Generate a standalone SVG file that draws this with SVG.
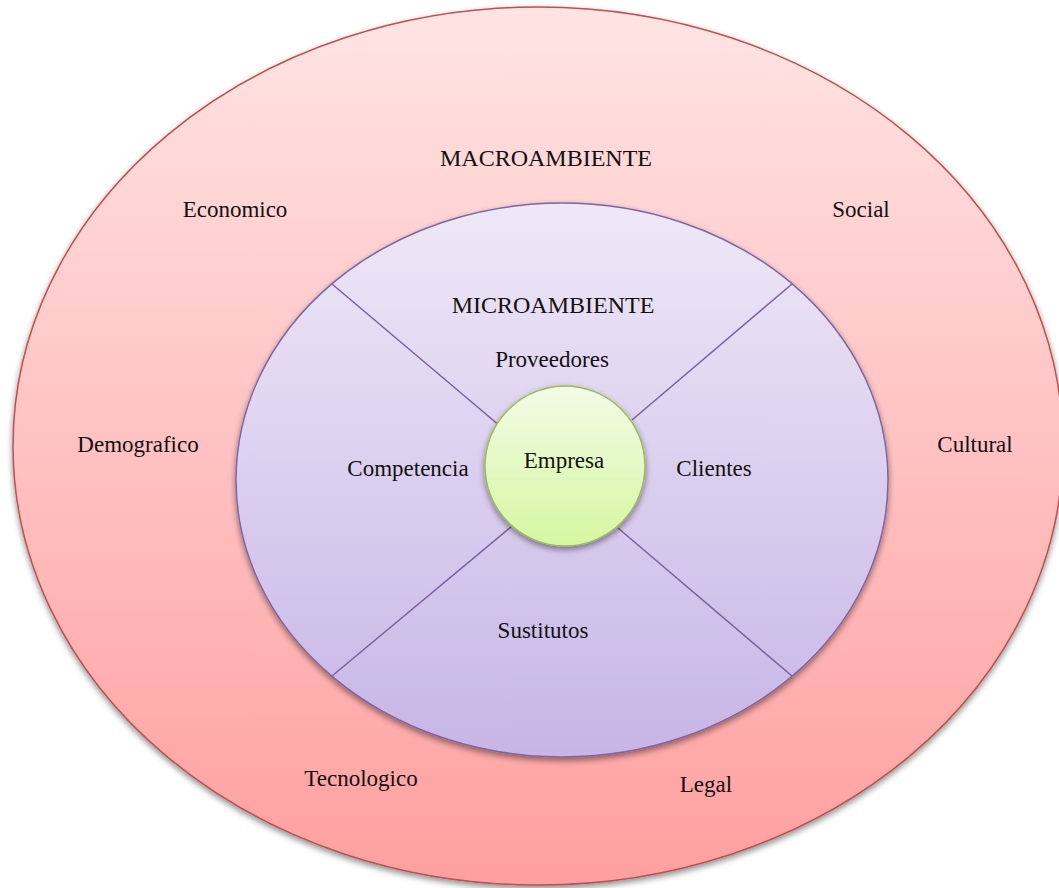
<svg xmlns="http://www.w3.org/2000/svg" width="1059" height="888" viewBox="0 0 1059 888">
  <defs>
    <linearGradient id="gMacro" x1="0" y1="0" x2="0" y2="1">
      <stop offset="0" stop-color="#FFE4E4"/>
      <stop offset="1" stop-color="#FF9F9F"/>
    </linearGradient>
    <linearGradient id="gMicro" x1="0" y1="0" x2="0" y2="1">
      <stop offset="0" stop-color="#EEE8F7"/>
      <stop offset="1" stop-color="#C7B5E6"/>
    </linearGradient>
    <linearGradient id="gCore" x1="0" y1="0" x2="0" y2="1">
      <stop offset="0" stop-color="#F3FBE6"/>
      <stop offset="1" stop-color="#D5F7A0"/>
    </linearGradient>
    <filter id="shadow" x="-10%" y="-10%" width="120%" height="125%">
      <feGaussianBlur in="SourceAlpha" stdDeviation="3"/>
      <feOffset dx="0" dy="3" result="b"/>
      <feComponentTransfer><feFuncA type="linear" slope="0.45"/></feComponentTransfer>
      <feMerge><feMergeNode/><feMergeNode in="SourceGraphic"/></feMerge>
    </filter>
  </defs>
  <style>
    text { font-family: "Liberation Serif", "Times New Roman", serif; font-size: 23px; fill: #111; }
    .up { font-size: 24px; }
    .macro { fill: url(#gMacro); stroke: #C0504D; stroke-width: 1.5; }
    .micro { fill: url(#gMicro); stroke: #8064A2; stroke-width: 1.5; }
    .core { fill: url(#gCore); stroke: #9BBB59; stroke-width: 1.5; }
    .div { stroke: #7A60A0; stroke-width: 1.5; fill: none; }
  </style>

  <rect width="1059" height="888" fill="#FFFFFF"/>

  <!-- outer ring: macro environment -->
  <g id="macroambiente">
    <ellipse class="macro" cx="538" cy="446" rx="525" ry="439" filter="url(#shadow)"/>
    <text class="up" x="546" y="166" text-anchor="middle">MACROAMBIENTE</text>
    <text x="235" y="217" text-anchor="middle">Economico</text>
    <text x="861" y="217" text-anchor="middle">Social</text>
    <text x="138" y="452" text-anchor="middle">Demografico</text>
    <text x="975" y="452" text-anchor="middle">Cultural</text>
    <text x="361" y="786" text-anchor="middle">Tecnologico</text>
    <text x="706" y="792" text-anchor="middle">Legal</text>
  </g>

  <!-- middle ring: micro environment -->
  <g id="microambiente">
    <ellipse class="micro" cx="562" cy="480" rx="326" ry="277" filter="url(#shadow)"/>
  </g>

  <!-- quadrant dividers -->
  <g id="connectors">
    <line class="div" x1="332" y1="284" x2="500" y2="426"/>
    <line class="div" x1="792" y1="284" x2="632" y2="420"/>
    <line class="div" x1="332" y1="676" x2="511" y2="527"/>
    <line class="div" x1="792" y1="676" x2="618" y2="528"/>
  </g>

  <g id="micro-labels">
    <text class="up" x="553" y="313" text-anchor="middle">MICROAMBIENTE</text>
    <text x="552" y="367" text-anchor="middle">Proveedores</text>
    <text x="408" y="476" text-anchor="middle">Competencia</text>
    <text x="714" y="476" text-anchor="middle">Clientes</text>
    <text x="543" y="638" text-anchor="middle">Sustitutos</text>
  </g>

  <!-- centre: the company -->
  <g id="empresa">
    <circle class="core" cx="565" cy="466" r="80" filter="url(#shadow)"/>
    <text x="564" y="468" text-anchor="middle">Empresa</text>
  </g>
</svg>
